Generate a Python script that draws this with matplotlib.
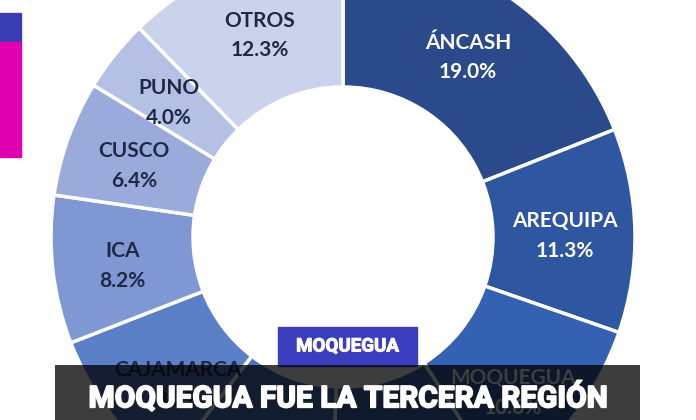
import matplotlib
matplotlib.use("Agg")
import matplotlib.pyplot as plt
import matplotlib.patheffects as pe
from matplotlib.patches import Rectangle

# ===== DATA =====
regions = ["ÁNCASH", "AREQUIPA", "MOQUEGUA", "", "", "CAJAMARCA", "ICA", "CUSCO", "PUNO", "OTROS"]
shares = [19.0, 11.3, 10.6, 9.8, 9.7, 8.7, 8.2, 6.4, 4.0, 12.3]
slice_colors = ["#2b4a8b", "#2f56a1", "#3461b1", "#3f6cbd", "#4a76c3",
                "#5b80c8", "#7f97d2", "#9aabdb", "#b4c0e4", "#cbd3ec"]
label_colors = ["white", "white", "white", "white", "white",
                "#1e2a45", "#1e2a45", "#1e2a45", "#1e2a45", "#1e2a45"]
banner_title = "MOQUEGUA FUE LA TERCERA REGIÓN"
tag_text = "MOQUEGUA"

labels = [f"{r}\n{s:.1f}%" if r else "" for r, s in zip(regions, shares)]

# ===== FIGURE =====
fig = plt.figure(figsize=(6.96, 4.2), dpi=100)
ax = fig.add_axes([0, 0, 1, 1])

wedges, texts = ax.pie(
    shares, colors=slice_colors, labels=labels,
    startangle=90, counterclock=False,
    radius=292, center=(343, 183), labeldistance=0.76,
    wedgeprops=dict(width=142, edgecolor="white", linewidth=2.5),
    textprops=dict(fontsize=15, fontweight="bold", family=["Lato", "DejaVu Sans"]),
)
for t, c in zip(texts, label_colors):
    t.set_ha("center")
    t.set_va("center")
    t.set_color(c)
    t.set_linespacing(1.6)
    t.set_multialignment("center")
    x, y = t.get_position()
    t.set_position((x, y - 4))

# the two labels that sit under the banner are pushed a bit lower
texts[2].set_position((513, 27))
texts[5].set_position((178, 35))

ax.set_xlim(0, 696)
ax.set_ylim(0, 420)
ax.set_aspect("equal")
ax.axis("off")

# left side colour bars
ax.add_patch(Rectangle((0, 378), 21, 29, color="#3a3cb4", zorder=5))
ax.add_patch(Rectangle((0, 263), 21, 115, color="#e000b0", zorder=5))

# tag box
ax.add_patch(Rectangle((278, 54), 139, 39, color="#3a3dbd", zorder=6))
ax.text(347.5, 73.5, tag_text, color="white", fontsize=13.5, fontweight="bold",
        family="Roboto", ha="center", va="center", zorder=7,
        path_effects=[pe.withStroke(linewidth=0.7, foreground="white")])

# dark banner
ax.add_patch(Rectangle((55, -5), 585, 60, facecolor="black", alpha=0.76,
                       edgecolor="none", zorder=6))
ax.text(348, 22, banner_title, color="white", fontsize=21.5, fontweight="bold",
        family="Roboto", ha="center", va="center", zorder=7,
        path_effects=[pe.withStroke(linewidth=1.3, foreground="white")])

fig.savefig("out.png", dpi=100)
